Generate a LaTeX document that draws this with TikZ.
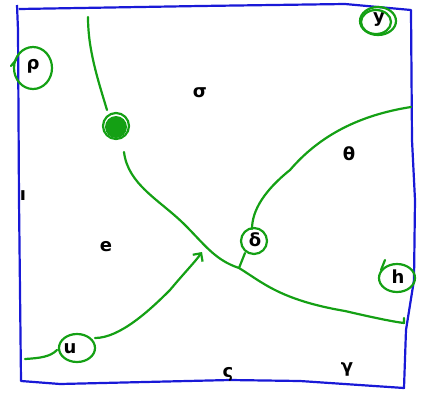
\documentclass[tikz,border=0pt]{standalone}
\usepackage{fontspec}
\setmainfont{DejaVu Sans}
\usetikzlibrary{arrows.meta}
\definecolor{marco}{RGB}{25,25,215}
\definecolor{trazo}{RGB}{20,160,20}
\tikzset{
  etiqueta/.style={font=\fontsize{18}{18}\selectfont\bfseries, inner sep=0pt},
  lapiz/.style={draw=trazo, line width=2.2pt, line cap=round, line join=round},
}
\begin{document}
\begin{tikzpicture}[x=1pt,y=-1pt]

\useasboundingbox (0,0) rectangle (424,392);

% Marco
\draw[marco, line width=2.2pt, line join=round]
(17,5) -- (18,30) -- (19,200) -- (21,381) -- (60,384) -- (230,380) -- (300,381)
-- (404,388) -- (406,330) -- (414,280) -- (415,200) -- (412,140) -- (411,10)
-- (345,4) -- (200,6) -- (19,9);

% Etiquetas
\node[etiqueta] (rho) at (33,66) {ρ};
\node[etiqueta] (sigma) at (200,93) {σ};
\node[etiqueta] (theta) at (349,154) {θ};
\node[etiqueta] (e) at (106,247) {e};
\node[etiqueta] (u) at (70,349) {u};
\node[etiqueta] (h) at (398,277) {h};
\node[etiqueta] (gamma) at (347,369) {γ};
\node[etiqueta] (s) at (228,374) {ς};
\node[etiqueta] (iota) at (23,196) {ı};
\node[etiqueta] (y) at (379,20) {y};
\node[etiqueta] (delta) at (255,240) {δ};
\node[etiqueta] (k) at (115,125) {κ};

% Circulos
\draw[lapiz] (33,68) ellipse[x radius=19, y radius=21];
\draw[lapiz] (11,66) -- (16,60);
\draw[lapiz] (378,21) ellipse[x radius=18, y radius=14];
\draw[lapiz] (376,22) ellipse[x radius=15, y radius=12];
\draw[lapiz] (397,278) ellipse[x radius=18, y radius=14];
\draw[lapiz] (385,260) -- (381,270);
\draw[lapiz] (254,241) ellipse[x radius=13, y radius=13];
\draw[lapiz] (77,348) ellipse[x radius=18, y radius=14];
\fill[trazo] (116,127) circle[radius=11];
\draw[lapiz] (116,126) circle[radius=13];

% Curvas
\draw[lapiz] (88,17) .. controls (88,50) and (98,80) .. (107,110);
\draw[lapiz] (124,152) .. controls (128,185) and (160,200) .. (185,225)
.. controls (205,245) and (215,260) .. (239,268)
.. controls (262,282) and (280,300) .. (345,311)
.. controls (375,318) and (395,322) .. (404,323) -- (404,318);
\draw[lapiz] (411,107) .. controls (360,115) and (320,135) .. (290,170)
.. controls (265,190) and (252,210) .. (252,229);
\draw[lapiz] (245,253) -- (239,268);
\draw[lapiz] (25,359) .. controls (40,358) and (50,357) .. (57,350);
\draw[lapiz, -{Straight Barb[length=6pt]}] (95,338)
.. controls (120,338) and (150,310) .. (170,290)
.. controls (185,272) and (195,262) .. (202,252);

\end{tikzpicture}
\end{document}
